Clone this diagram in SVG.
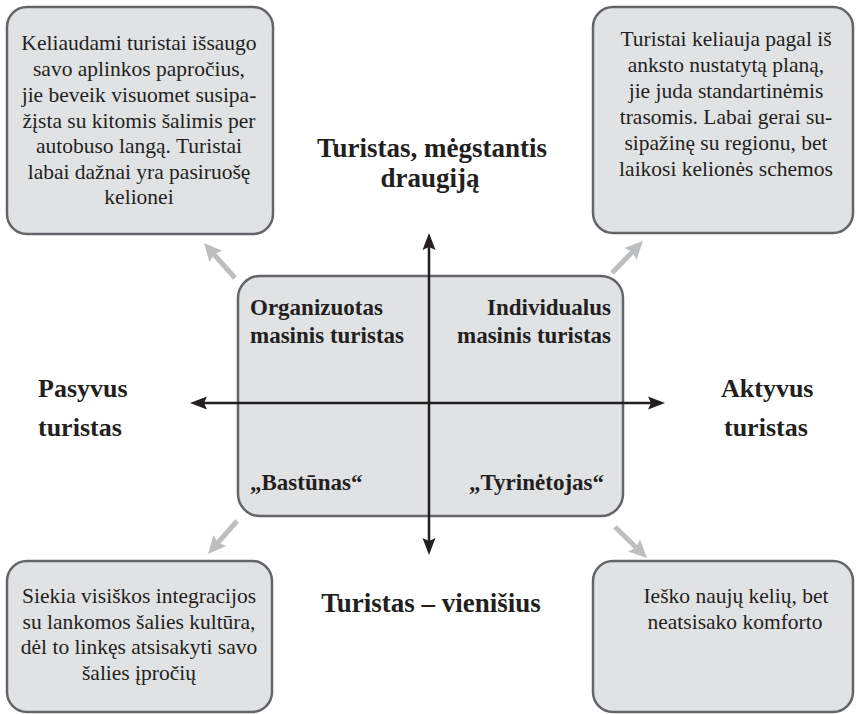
<svg xmlns="http://www.w3.org/2000/svg" width="860" height="714" viewBox="0 0 860 714">
<style>
.box{fill:#e1e2e4;stroke:#646568;stroke-width:2.5}
.body{font-family:"Liberation Serif","DejaVu Serif",serif;font-size:21.5px;fill:#231f20;text-anchor:middle}
.lbl{font-family:"Liberation Serif","DejaVu Serif",serif;font-size:23px;font-weight:bold;fill:#231f20}
.ax{font-family:"Liberation Serif","DejaVu Serif",serif;font-size:26px;font-weight:bold;fill:#231f20}
.axv{font-size:27px;text-anchor:middle}
.axis{stroke:#231f20;stroke-width:2.5;fill:none}
.gray{stroke:#bcbec0;stroke-width:5;fill:none}
</style>
<defs>
<marker id="ah" markerUnits="userSpaceOnUse" markerWidth="30" markerHeight="30" viewBox="-15 -15 30 30" refX="0" refY="0" orient="auto-start-reverse">
<path d="M8,0 L-9,-6.5 L-6,0 L-9,6.5 Z" fill="#231f20"/>
</marker>
<marker id="gh" markerUnits="userSpaceOnUse" markerWidth="30" markerHeight="30" viewBox="-15 -15 30 30" refX="0" refY="0" orient="auto">
<path d="M10,0 L-8,-8.5 L-5,0 L-8,8.5 Z" fill="#bcbec0"/>
</marker>
</defs>

<g id="node-top-left">
<rect class="box" x="7" y="7" width="266" height="227" rx="20"/>
<text class="body" x="139" y="50">Keliaudami turistai išsaugo</text>
<text class="body" x="139" y="76">savo aplinkos papročius,</text>
<text class="body" x="139" y="102">jie beveik visuomet susipa-</text>
<text class="body" x="139" y="127.5">žįsta su kitomis šalimis per</text>
<text class="body" x="139" y="153">autobuso langą. Turistai</text>
<text class="body" x="139" y="179">labai dažnai yra pasiruošę</text>
<text class="body" x="139" y="204">kelionei</text>
</g>

<g id="node-top-right">
<rect class="box" x="593" y="7" width="260" height="226" rx="20"/>
<text class="body" x="726" y="46">Turistai keliauja pagal iš</text>
<text class="body" x="726" y="72">anksto nustatytą planą,</text>
<text class="body" x="726" y="98">jie juda standartinėmis</text>
<text class="body" x="726" y="124">trasomis. Labai gerai su-</text>
<text class="body" x="726" y="150">sipažinę su regionu, bet</text>
<text class="body" x="726" y="176">laikosi kelionės schemos</text>
</g>

<g id="node-bottom-left">
<rect class="box" x="7" y="561" width="265" height="151" rx="20"/>
<text class="body" x="139" y="603">Siekia visiškos integracijos</text>
<text class="body" x="139" y="629">su lankomos šalies kultūra,</text>
<text class="body" x="139" y="654">dėl to linkęs atsisakyti savo</text>
<text class="body" x="139" y="680">šalies įpročių</text>
</g>

<g id="node-bottom-right">
<rect class="box" x="593" y="561" width="260" height="151" rx="20"/>
<text class="body" x="736" y="603">Ieško naujų kelių, bet</text>
<text class="body" x="735" y="629">neatsisako komforto</text>
</g>

<g id="node-center">
<rect class="box" x="238" y="276" width="385" height="240" rx="22"/>
<text class="lbl" x="250" y="315">Organizuotas</text>
<text class="lbl" x="250" y="343">masinis turistas</text>
<text class="lbl" x="611" y="315" text-anchor="end">Individualus</text>
<text class="lbl" x="611" y="343" text-anchor="end">masinis turistas</text>
<text class="lbl" x="250" y="490">„Bastūnas“</text>
<text class="lbl" x="604" y="490" text-anchor="end">„Tyrinėtojas“</text>
</g>

<g id="axis-labels">
<text class="ax axv" x="432" y="157">Turistas, mėgstantis</text>
<text class="ax axv" x="430" y="187">draugiją</text>
<text class="ax axv" x="431" y="612">Turistas – vienišius</text>
<text class="ax" x="38" y="397">Pasyvus</text>
<text class="ax" x="38" y="436">turistas</text>
<text class="ax" x="721" y="397">Aktyvus</text>
<text class="ax" x="724" y="436">turistas</text>
</g>

<g id="connectors">
<line class="axis" x1="429" y1="241" x2="429" y2="547" marker-start="url(#ah)" marker-end="url(#ah)"/>
<line class="axis" x1="198" y1="403" x2="657" y2="403" marker-start="url(#ah)" marker-end="url(#ah)"/>
<line class="gray" x1="235" y1="278" x2="210.6" y2="250.5" marker-end="url(#gh)"/>
<line class="gray" x1="612" y1="273" x2="636" y2="248.2" marker-end="url(#gh)"/>
<line class="gray" x1="237" y1="521" x2="214.6" y2="546.5" marker-end="url(#gh)"/>
<line class="gray" x1="615" y1="527" x2="639.8" y2="551" marker-end="url(#gh)"/>
</g>
</svg>
